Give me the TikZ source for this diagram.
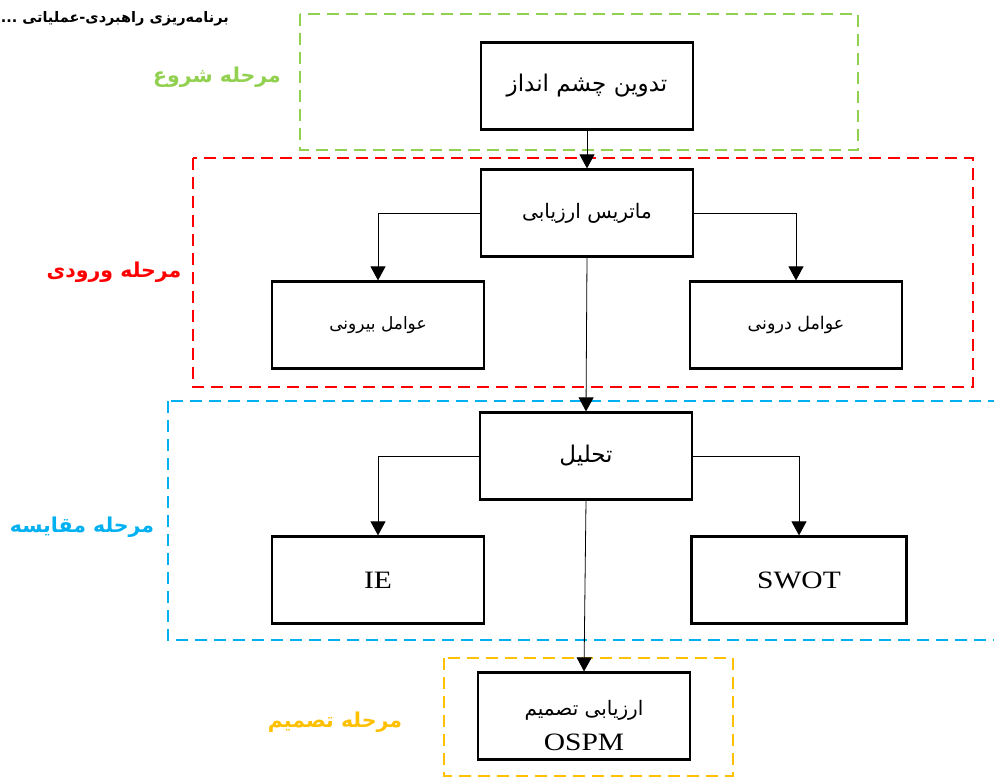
\documentclass[tikz,border=0pt]{standalone}
\usepackage{fontspec}
\usetikzlibrary{arrows.meta}
\TeXXeTstate=1
\setmainfont{Liberation Serif}
\newfontfamily\arabicfont[Script=Arabic]{DejaVu Sans}
\newfontfamily\latinfont[FakeStretch=1.18]{Liberation Serif}
\definecolor{cgreen}{RGB}{146,208,80}
\definecolor{cred}{RGB}{255,0,0}
\definecolor{cblue}{RGB}{0,176,240}
\definecolor{cyellow}{RGB}{255,192,0}
\newcommand{\fa}[1]{\arabicfont\fontsize{#1}{#1}\selectfont}
\begin{document}
\begin{tikzpicture}[x=1pt,y=-1pt,
  box/.style={draw,line width=2.2pt,minimum width=212pt,minimum height=87pt,inner sep=0pt,align=center,
    font=\fa{21}},
  latinbox/.style={box,font=\latinfont\fontsize{25}{30}\selectfont},
  stage/.style={line width=2pt,dash pattern=on 12pt off 7pt},
  stagelabel/.style={font=\arabicfont\bfseries\fontsize{20.5}{24}\selectfont},
  conn/.style={line width=0.8pt,-{Triangle[length=14pt,width=15pt]}},
]
\useasboundingbox (0,0) rectangle (994,778);
\clip (0,0) rectangle (994,778);

% stage frames
\draw[stage,cgreen] (300,14) rectangle (858,150);
\draw[stage,cred] (193,158) rectangle (973,387);
\draw[stage,cblue] (168,401) rectangle (1010,640);
\draw[stage,cyellow] (444,658) rectangle (733,776);

% title
\node[anchor=east,inner sep=0pt,font=\arabicfont\bfseries\fontsize{14.5}{16}\selectfont] (title) at (229,19)
  {\beginR برنامه‌ریزی راهبردی-عملیاتی ...\endR};

% stage labels
\node[stagelabel,text=cgreen] (l1) at (217,77) {\beginR مرحله شروع\endR};
\node[stagelabel,text=cred] (l2) at (114,272) {\beginR مرحله ورودی\endR};
\node[stagelabel,text=cblue] (l3) at (82,527) {\beginR مرحله مقایسه\endR};
\node[stagelabel,text=cyellow] (l4) at (335,722) {\beginR مرحله تصمیم\endR};

% boxes
\node[box,font=\fa{23}] (vision) at (587,86) {\beginR تدوین چشم انداز\endR};
\node[box,font=\fa{20}] (matrix) at (587,213) {\beginR ماتریس ارزیابی\endR};
\node[box,font=\fa{17}] (ext) at (378,325) {\beginR عوامل بیرونی\endR};
\node[box,font=\fa{17.5}] (int) at (796,325) {\beginR عوامل درونی\endR};
\node[box,font=\fa{23}] (anal) at (586,456) {\beginR تحلیل\endR};
\node[latinbox] (ie) at (378,580) {IE};
\node[latinbox,minimum width=215pt] (swot) at (799,580) {SWOT};
\node[box,font=\fa{20}] (ospm) at (584,716)
  {\rule{0pt}{34pt}\beginR ارزیابی تصمیم\endR\\[12pt]{\latinfont\fontsize{25}{25}\selectfont OSPM}};

% connectors
\draw[conn] (vision.south) -- (matrix.north);
\draw[conn] (matrix.west) -| (ext.north);
\draw[conn] (matrix.east) -| (int.north);
\draw[conn] (matrix.south) -- (anal.north);
\draw[conn] (anal.west) -| (ie.north);
\draw[conn] (anal.east) -| (swot.north);
\draw[conn] (anal.south) -- (ospm.north);
\end{tikzpicture}
\end{document}
